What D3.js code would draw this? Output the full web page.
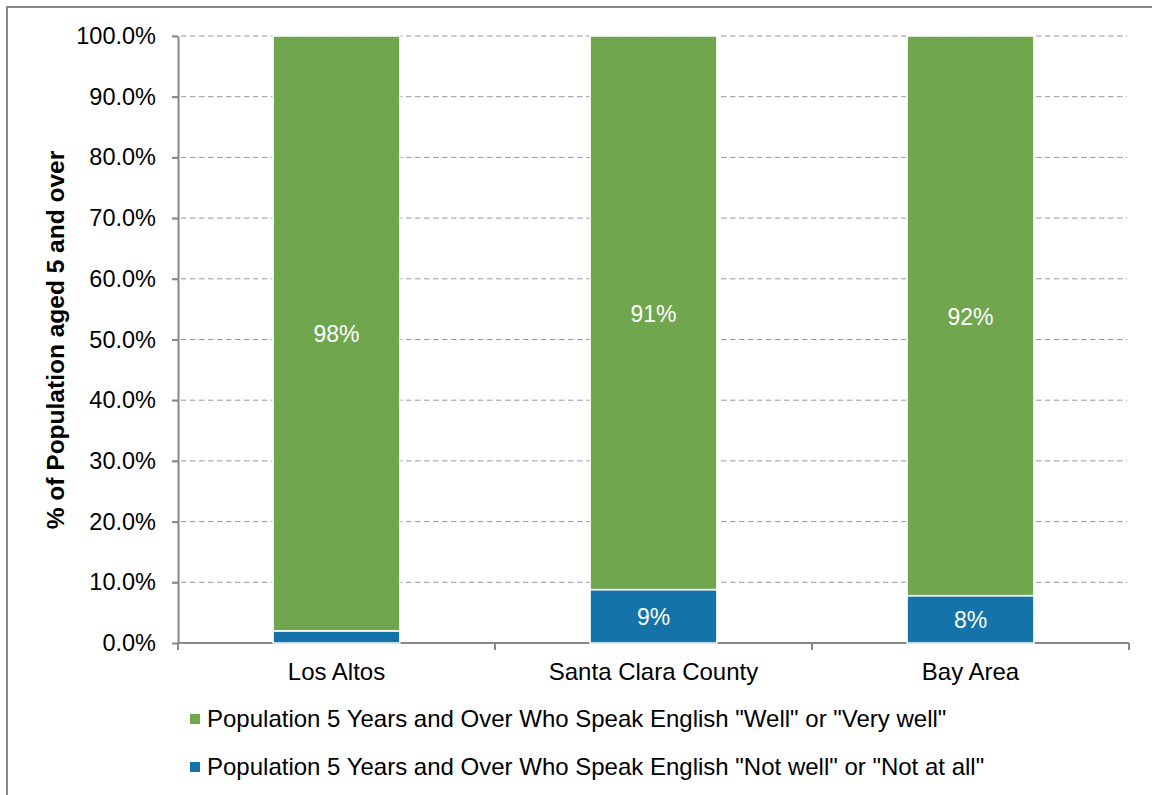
<!DOCTYPE html>
<html lang="en">
<head>
    <meta charset="UTF-8">
    <title>English Proficiency</title>
    <script src="https://d3js.org/d3.v7.min.js"></script>
    <style>
        body { margin: 0; background: #fff; }
        text { font-family: "Liberation Sans", Arial, sans-serif; fill: #000; }
        .grid line { stroke: #999; stroke-dasharray: 5.5,3.5; }
        .axis path, .axis line { stroke: #888; }
    </style>
</head>
<body>
    <div id="chart"></div>
    <script>
        // data
        const categories = ["Los Altos", "Santa Clara County", "Bay Area"];
        const speakWell = [0.98, 0.912, 0.922];
        const speakNotWell = [0.02, 0.088, 0.078];
        const seriesNames = [
            'Population 5 Years and Over Who Speak English "Well" or "Very well"',
            'Population 5 Years and Over Who Speak English "Not well" or "Not at all"'
        ];
        const yTicks = [0, 0.1, 0.2, 0.3, 0.4, 0.5, 0.6, 0.7, 0.8, 0.9, 1.0];

        const width = 1152, height = 795;
        const plotLeft = 178, plotRight = 1129, plotTop = 36, plotBottom = 643;
        const green = "#70a64e", blue = "#1473a8";

        const svg = d3.select("#chart").append("svg")
            .attr("width", width)
            .attr("height", height);

        // chart border
        svg.append("rect")
            .attr("x", 7).attr("y", 7)
            .attr("width", 1170).attr("height", 820)
            .attr("fill", "none")
            .attr("stroke", "#888")
            .attr("stroke-width", 2);

        const x = d3.scaleBand()
            .domain(categories)
            .range([plotLeft, plotRight])
            .paddingInner(0.6)
            .paddingOuter(0.3);

        const y = d3.scaleLinear()
            .domain([0, 1])
            .range([plotBottom, plotTop]);

        // gridlines
        svg.append("g")
            .attr("class", "grid")
            .selectAll("line")
            .data(yTicks.slice(1))
            .enter().append("line")
            .attr("x1", plotLeft - 6)
            .attr("x2", plotRight - 2)
            .attr("y1", d => y(d))
            .attr("y2", d => y(d));

        // y axis
        const yAxis = svg.append("g")
            .attr("class", "axis")
            .attr("transform", `translate(${plotLeft},0)`)
            .call(d3.axisLeft(y).tickValues(yTicks).tickFormat(d3.format(".1%")).tickSize(6).tickSizeOuter(0).tickPadding(16));
        yAxis.selectAll("path, line").attr("stroke-width", 2);
        yAxis.selectAll("text").style("font-size", "23.5px").attr("fill", "#000");

        // x axis: ticks at band boundaries
        const xAxis = svg.append("g").attr("class", "axis");
        xAxis.append("line")
            .attr("x1", plotLeft).attr("x2", plotRight)
            .attr("y1", plotBottom).attr("y2", plotBottom)
            .attr("stroke-width", 2);
        const bounds = [plotLeft].concat(categories.map(c => x(c) + x.bandwidth() / 2 + x.step() / 2));
        xAxis.selectAll(".tk")
            .data(bounds)
            .enter().append("line")
            .attr("x1", d => d).attr("x2", d => d)
            .attr("y1", plotBottom).attr("y2", plotBottom + 7)
            .attr("stroke-width", 2);
        xAxis.selectAll("text")
            .data(categories)
            .enter().append("text")
            .attr("x", d => x(d) + x.bandwidth() / 2)
            .attr("y", plotBottom + 37)
            .attr("text-anchor", "middle")
            .style("font-size", "24px")
            .text(d => d);

        // stacked bars
        const rows = categories.map((c, i) => ({ cat: c, notWell: speakNotWell[i], well: speakWell[i] }));
        const stack = d3.stack().keys(["notWell", "well"])(rows);
        const colors = { notWell: blue, well: green };

        const layers = svg.append("g")
            .selectAll("g")
            .data(stack)
            .enter().append("g")
            .attr("fill", d => colors[d.key]);

        layers.selectAll("rect")
            .data(d => d)
            .enter().append("rect")
            .attr("x", d => x(d.data.cat))
            .attr("y", d => y(d[1]))
            .attr("width", x.bandwidth())
            .attr("height", d => y(d[0]) - y(d[1]))
            .attr("stroke", "#fff")
            .attr("stroke-width", 1.5);

        layers.selectAll("text")
            .data(d => d.filter(s => s[1] - s[0] > 0.04))
            .enter().append("text")
            .attr("x", d => x(d.data.cat) + x.bandwidth() / 2)
            .attr("y", d => y((d[0] + d[1]) / 2) + 1)
            .attr("dy", "0.35em")
            .attr("text-anchor", "middle")
            .style("font-size", "23px")
            .style("fill", "#fff")
            .text(d => d3.format(".0%")(d[1] - d[0]));

        // y axis title
        svg.append("text")
            .attr("transform", "translate(55,340) rotate(-90)")
            .attr("dy", "0.35em")
            .attr("text-anchor", "middle")
            .style("font-size", "24.5px")
            .style("font-weight", "bold")
            .text("% of Population aged 5 and over");

        // legend
        const legend = svg.append("g")
            .selectAll("g")
            .data(seriesNames)
            .enter().append("g")
            .attr("transform", (d, i) => `translate(190,${719 + i * 48})`);
        legend.append("rect")
            .attr("x", 0).attr("y", -5)
            .attr("width", 10).attr("height", 10)
            .attr("fill", (d, i) => i === 0 ? green : blue);
        legend.append("text")
            .attr("x", 17)
            .attr("dy", "0.35em")
            .style("font-size", "24px")
            .text(d => d);
    </script>
</body>
</html>
